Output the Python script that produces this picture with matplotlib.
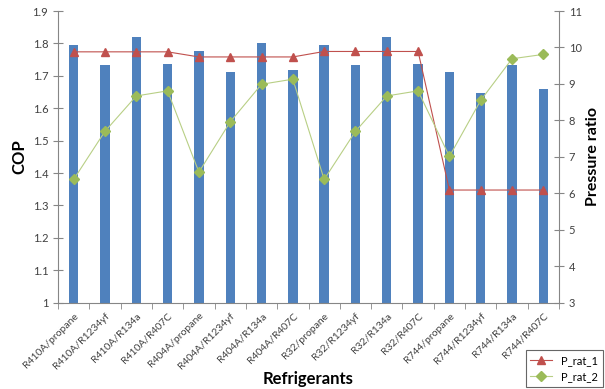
import numpy as np
import matplotlib.pyplot as plt

plt.rcParams['font.family'] = ['Lato', 'DejaVu Sans']

# Dane: COP i stosunki ciśnień dla par czynników
refrigerants = ['R410A/propane', 'R410A/R1234yf', 'R410A/R134a', 'R410A/R407C',
                'R404A/propane', 'R404A/R1234yf', 'R404A/R134a', 'R404A/R407C',
                'R32/propane', 'R32/R1234yf', 'R32/R134a', 'R32/R407C',
                'R744/propane', 'R744/R1234yf', 'R744/R134a', 'R744/R407C']
cop = [1.795, 1.732, 1.819, 1.736, 1.777, 1.712, 1.800, 1.719,
       1.795, 1.732, 1.819, 1.736, 1.711, 1.648, 1.732, 1.658]
p_rat_1 = [9.88, 9.88, 9.88, 9.88, 9.74, 9.74, 9.74, 9.74,
           9.89, 9.89, 9.89, 9.89, 6.09, 6.09, 6.09, 6.09]
p_rat_2 = [6.38, 7.70, 8.67, 8.81, 6.58, 7.96, 8.99, 9.13,
           6.38, 7.70, 8.67, 8.81, 7.01, 8.55, 9.69, 9.81]

x = np.arange(len(refrigerants))
gray = '#868686'

fig = plt.figure(figsize=(6.05, 3.89), dpi=100)
ax = fig.add_axes([58 / 605, 1 - 302.7 / 389, (559 - 58) / 605, (302.7 - 11) / 389])

# Słupki COP
ax.bar(x, cop, width=0.3, color='#4F81BD', zorder=2)
ax.set_xlim(-0.5, len(x) - 0.5)
ax.set_ylim(1.0, 1.9)
ax.set_yticks(np.arange(1.0, 1.91, 0.1))
ax.set_yticklabels(['1', '1.1', '1.2', '1.3', '1.4', '1.5', '1.6', '1.7', '1.8', '1.9'])
ax.set_xticks(x)
ax.set_xticklabels(refrigerants, rotation=45, ha='right', rotation_mode='anchor', fontsize=7.5, color='#404040')
ax.set_xticks(np.arange(-0.5, len(x), 1), minor=True)
ax.tick_params(axis='x', which='major', length=0, pad=6)
ax.tick_params(axis='x', which='minor', length=4, direction='out', color=gray)
ax.tick_params(axis='y', direction='inout', length=7, color=gray, labelsize=8, labelcolor='#404040')
ax.set_ylabel('COP', fontsize=12, fontweight='bold', labelpad=4)
for s in ['top', 'right']:
    ax.spines[s].set_visible(False)
for s in ['left', 'bottom']:
    ax.spines[s].set_color(gray)

# Podpis osi X umieszczony przy dolnej krawędzi
fig.text(0.5 * (58 + 559) / 605, 2 / 389, 'Refrigerants', ha='center', va='bottom',
         fontsize=12, fontweight='bold')

# Druga oś: stosunki ciśnień
ax2 = ax.twinx()
ax2.plot(x, p_rat_1, color='#C0504D', lw=0.8, marker='^', markersize=6,
         markeredgecolor='#C0504D', label='P_rat_1', zorder=3)
ax2.plot(x, p_rat_2, color='#B8CF85', lw=0.8, marker='D', markersize=5,
         markerfacecolor='#9BBB59', markeredgecolor='#9BBB59', label='P_rat_2', zorder=3)
ax2.set_ylim(3, 11)
ax2.set_yticks(range(3, 12))
ax2.tick_params(axis='y', direction='inout', length=7, color=gray, labelsize=8, labelcolor='#404040')
ax2.set_ylabel('Pressure ratio', fontsize=11.5, fontweight='bold', labelpad=3)
for s in ['top', 'left', 'bottom']:
    ax2.spines[s].set_visible(False)
ax2.spines['right'].set_color(gray)

leg = fig.legend(loc='lower right', bbox_to_anchor=(1.0, 0.0), fontsize=8,
                 frameon=True, fancybox=False, edgecolor='#404040', handlelength=2.0,
                 borderaxespad=0.2)
leg.get_frame().set_linewidth(0.8)

fig.savefig('out.png', dpi=100)
